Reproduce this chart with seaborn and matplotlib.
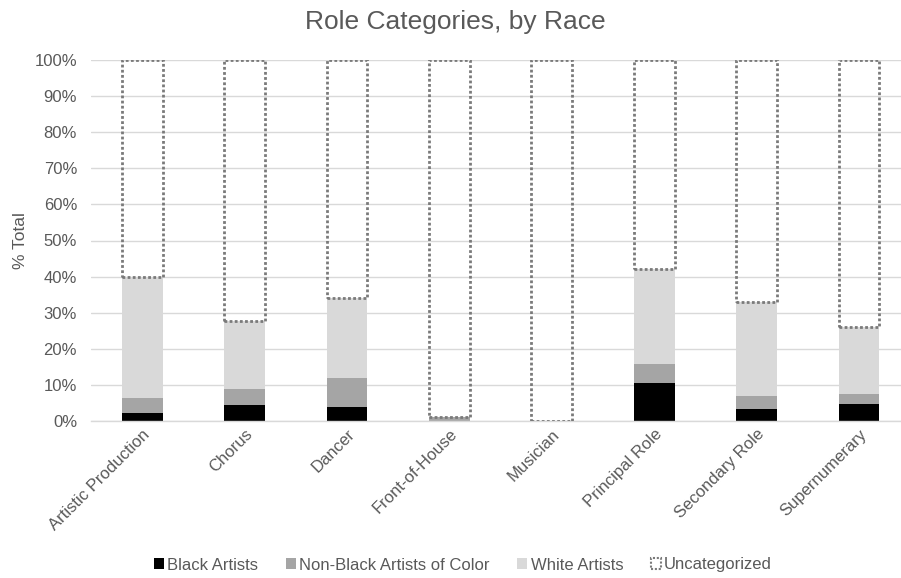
import matplotlib
matplotlib.use("Agg")
import matplotlib.pyplot as plt
import matplotlib.ticker as mticker
from matplotlib.patches import Patch
import numpy as np
import pandas as pd
import seaborn as sns

categories = ["Artistic Production", "Chorus", "Dancer", "Front-of-House",
              "Musician", "Principal Role", "Secondary Role", "Supernumerary"]
black_artists = [2.3, 4.5, 3.8, 0.0, 0.0, 10.5, 3.2, 4.8]
non_black_poc = [4.2, 4.5, 8.1, 1.0, 0.0, 5.3, 3.6, 2.7]
white_artists = [33.5, 18.7, 22.2, 0.2, 0.0, 26.3, 26.1, 18.6]
uncategorized = [60.0, 72.3, 65.9, 98.8, 100.0, 57.9, 67.1, 73.9]
yticks = [0, 10, 20, 30, 40, 50, 60, 70, 80, 90, 100]

TEXT = "#595959"
GRID = "#D9D9D9"
DOTTED = (0, (1, 0.85))

sns.set_theme(style="white")
plt.rcParams["font.family"] = ["Liberation Sans", "DejaVu Sans"]

df = pd.DataFrame({
    "role": categories,
    "black": black_artists,
    "nboc": non_black_poc,
    "white": white_artists,
    "unc": uncategorized,
})
df["cum_black"] = df["black"]
df["cum_nboc"] = df["cum_black"] + df["nboc"]
df["cum_white"] = df["cum_nboc"] + df["white"]

fig = plt.figure(figsize=(9.01, 5.78), dpi=100)
ax = fig.add_axes([91 / 901, 1 - 421 / 578, 1 - 91 / 901, (421 - 60) / 578])

ax.set_axisbelow(True)
ax.yaxis.grid(True, color=GRID, linewidth=1.0)

w = 0.4
# Uncategorized share: dotted outline sitting on top of the stacked categories
sns.barplot(data=df, x="role", y="unc", ax=ax, width=w, fill=False,
            edgecolor="#7A7A7A", linewidth=2.0, linestyle=DOTTED,
            order=categories)
for p, base in zip(ax.patches, df["cum_white"]):
    p.set_y(base)
n_unc = len(ax.patches)

sns.barplot(data=df, x="role", y="cum_white", ax=ax, width=w, color="#D9D9D9",
            saturation=1, linewidth=0, order=categories)
sns.barplot(data=df, x="role", y="cum_nboc", ax=ax, width=w, color="#A5A5A5",
            saturation=1, linewidth=0, order=categories)
sns.barplot(data=df, x="role", y="cum_black", ax=ax, width=w, color="#000000",
            saturation=1, linewidth=0, order=categories)
# keep the dotted outline above the fills
for p in ax.patches[:n_unc]:
    p.set_zorder(5)

ax.set_xlim(-0.5, 7.41)
ax.set_ylim(0, 100)
ax.set_yticks(yticks)
ax.yaxis.set_major_formatter(mticker.FuncFormatter(lambda v, _: f"{v:.0f}%"))
ax.tick_params(axis="y", labelsize=12, colors=TEXT, length=0, pad=10)
ax.tick_params(axis="x", labelsize=12, colors=TEXT, length=0, pad=4)
plt.setp(ax.get_xticklabels(), rotation=45, ha="right", rotation_mode="anchor")

for s in ["top", "right", "left"]:
    ax.spines[s].set_visible(False)
ax.spines["bottom"].set_color(GRID)
ax.spines["bottom"].set_linewidth(1.0)

ax.set_xlabel("")
ax.set_ylabel("% Total", fontsize=12.5, color=TEXT)
ax.yaxis.set_label_coords(-(91 - 28) / 810, 0.5)
fig.text(455 / 901, 1 - 22 / 578, "Role Categories, by Race", fontsize=19,
         color=TEXT, ha="center", va="center")

handles = [
    Patch(facecolor="#000000", edgecolor="none", label="Black Artists"),
    Patch(facecolor="#A5A5A5", edgecolor="none", label="Non-Black Artists of Color"),
    Patch(facecolor="#D9D9D9", edgecolor="none", label="White Artists"),
    Patch(facecolor="white", edgecolor="#7A7A7A", linestyle=DOTTED,
          linewidth=1.5, label="Uncategorized"),
]
fig.legend(handles=handles, loc="center", bbox_to_anchor=(463 / 901, 1 - 565 / 578),
           ncol=4, frameon=False, fontsize=12, labelcolor=TEXT,
           handlelength=0.6, handleheight=0.6, handletextpad=0.2,
           columnspacing=1.65)

fig.savefig("out.png", dpi=100)
